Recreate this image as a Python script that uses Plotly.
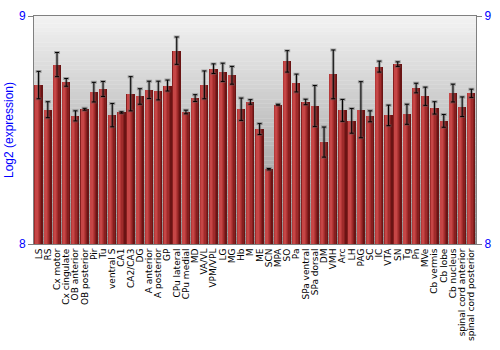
import plotly.graph_objects as go

categories = ["LS", "RS", "Cx motor", "Cx cingulate", "OB anterior", "OB posterior", "Pir", "Tu",
              "ventral S", "CA1", "CA2/CA3", "DG", "A anterior", "A posterior", "GP", "CPu lateral",
              "CPu medial", "MD", "VA/VL", "VPM/VPL", "LG", "MG", "Hb", "M", "ME", "SCN", "MPA", "SO",
              "Pa", "SPa ventral", "SPa dorsal", "DM", "VMH", "Arc", "LH", "PAG", "SC", "IC", "VTA",
              "SN", "Tg", "Pn", "MVe", "Cb vermis", "Cb lobe", "Cb nucleus", "spinal cord anterior",
              "spinal cord posterior"]

values = [8.697, 8.589, 8.787, 8.709, 8.562, 8.591, 8.666, 8.680,
          8.565, 8.577, 8.659, 8.647, 8.676, 8.673, 8.695, 8.848,
          8.579, 8.640, 8.698, 8.769, 8.753, 8.740, 8.591, 8.623,
          8.504, 8.328, 8.611, 8.801, 8.706, 8.623, 8.605, 8.447,
          8.744, 8.586, 8.540, 8.589, 8.560, 8.778, 8.564, 8.789,
          8.569, 8.684, 8.648, 8.597, 8.540, 8.662, 8.602, 8.661]

errors = [0.060, 0.035, 0.053, 0.017, 0.022, 0.004, 0.043, 0.033,
          0.051, 0.003, 0.075, 0.034, 0.038, 0.041, 0.024, 0.060,
          0.008, 0.015, 0.061, 0.021, 0.040, 0.039, 0.049, 0.010,
          0.024, 0.003, 0.002, 0.047, 0.039, 0.012, 0.090, 0.066,
          0.107, 0.048, 0.054, 0.123, 0.024, 0.024, 0.045, 0.010,
          0.044, 0.021, 0.040, 0.027, 0.028, 0.039, 0.043, 0.018]

y_min, y_max = 8, 9
y_ticks = [8, 9]

fig = go.Figure()

# cylinder-like shading with stacked bar layers
layers = [
    (0.90, -0.46, "#6a1414"),
    (0.74, -0.46, "#861f1f"),
    (0.58, -0.45, "#a02b2b"),
    (0.42, -0.43, "#b53838"),
    (0.26, -0.38, "#c64646"),
]
for w, off, col in layers:
    fig.add_trace(go.Bar(
        x=categories, y=[v - y_min for v in values], base=y_min,
        width=w, offset=off, marker=dict(color=col, line=dict(width=0)),
        hoverinfo="skip", showlegend=False))

# error bar shadow + error bars
fig.add_trace(go.Scatter(
    x=categories, y=values, mode="markers", marker=dict(size=0.1, opacity=0),
    error_y=dict(type="data", array=errors, color="rgba(90,90,90,0.45)", thickness=3, width=3),
    showlegend=False, hoverinfo="skip"))
fig.add_trace(go.Scatter(
    x=categories, y=values, mode="markers", marker=dict(size=0.1, opacity=0),
    error_y=dict(type="data", array=errors, color="black", thickness=1, width=2),
    showlegend=False, hoverinfo="skip"))

# vertical gradient background of the plot area
n = 60
top = (242, 242, 242)
bot = (140, 140, 140)
shapes = []
for i in range(n):
    t = i / (n - 1)
    c = tuple(int(round(top[k] + (bot[k] - top[k]) * t)) for k in range(3))
    y1 = 1 - i / n
    y0 = 1 - (i + 1) / n
    shapes.append(dict(type="rect", xref="paper", yref="paper", x0=0, x1=1, y0=y0 - 0.001, y1=y1,
                       fillcolor="rgb(%d,%d,%d)" % c, line=dict(width=0), layer="below"))

fig.update_layout(
    width=500, height=350,
    margin=dict(l=28, r=14, t=9, b=100),
    paper_bgcolor="white", plot_bgcolor="white",
    barmode="overlay", bargap=0,
    shapes=shapes,
    font=dict(family="Liberation Sans, Arial, sans-serif"),
    xaxis=dict(type="category", range=[-0.5, len(categories) - 0.5], tickangle=-90,
               tickmode="array", tickvals=categories, ticktext=categories,
               tickfont=dict(family="DejaVu Sans", size=9, color="black"), ticks="", showgrid=False,
               showline=True, mirror=True, linecolor="#808080", linewidth=1),
    yaxis=dict(range=[y_min, y_max], tickvals=y_ticks, ticktext=[str(t) for t in y_ticks],
               ticks="outside", ticklen=5, tickcolor="#808080", showgrid=False, zeroline=False,
               showline=True, linecolor="#808080", linewidth=1,
               tickfont=dict(size=12, color="blue"),
               title=dict(text="Log2 (expression)", font=dict(size=12, color="blue"), standoff=2)),
    yaxis2=dict(range=[y_min, y_max], tickvals=y_ticks, ticktext=[str(t) for t in y_ticks],
                overlaying="y", side="right", ticks="outside", ticklen=5, tickcolor="#808080",
                showgrid=False, zeroline=False, showline=True, linecolor="#808080", linewidth=1,
                tickfont=dict(size=12, color="blue")),
)

# invisible trace to activate the right axis
fig.add_trace(go.Scatter(x=[categories[0]], y=[y_min], yaxis="y2", mode="markers",
                         marker=dict(opacity=0), showlegend=False, hoverinfo="skip"))

fig.write_html("out.html")
